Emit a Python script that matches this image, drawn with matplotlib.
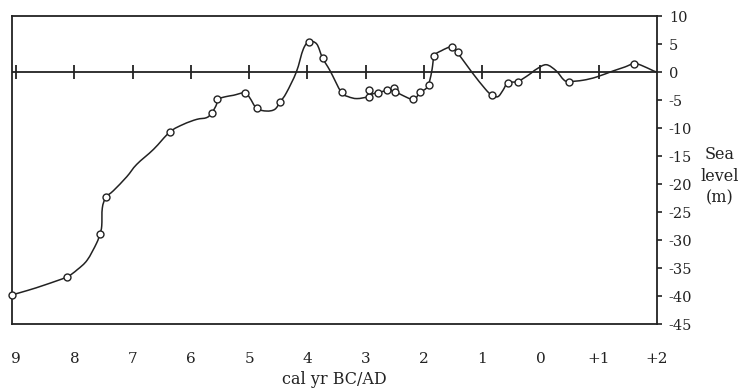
import matplotlib
matplotlib.use("Agg")
import matplotlib.pyplot as plt
from matplotlib.path import Path
from matplotlib.patches import PathPatch

plt.rcParams['font.family'] = ['DejaVu Serif']
plt.rcParams['axes.unicode_minus'] = False

# Age in thousand years (BC negative, AD positive)
curve_x = [-9.07, -8.8, -8.5, -8.13, -7.95, -7.78, -7.62, -7.56, -7.53, -7.52, -7.46,
           -7.33, -7.1, -6.93, -6.64, -6.36, -6.13, -5.9, -5.73, -5.64, -5.56, -5.55,
           -5.4, -5.27, -5.07, -4.99, -4.87, -4.70, -4.56, -4.47, -4.36, -4.19, -4.07,
           -3.97, -3.84, -3.74, -3.61, -3.42, -3.3, -3.15, -2.95, -2.88, -2.79, -2.63,
           -2.5, -2.4, -2.18, -2.07, -1.95, -1.90, -1.86, -1.82, -1.7, -1.52, -1.42,
           -1.18, -0.95, -0.84, -0.73, -0.64, -0.56, -0.39, -0.2, -0.07, 0.10, 0.27,
           0.40, 0.49, 0.73, 0.96, 1.25, 1.45, 1.6, 1.73, 1.94, 2.0]
curve_y = [-39.8, -39.0, -38.0, -36.6, -35.3, -33.6, -30.6, -28.9, -27.5, -24.3, -22.4,
           -21.2, -18.7, -16.5, -13.8, -10.7, -9.35, -8.46, -8.15, -7.3, -5.8, -4.9,
           -4.4, -4.16, -3.7, -4.6, -6.5, -6.97, -6.67, -5.4, -3.7, 0.0, 4.1,
           5.4, 5.0, 2.5, 0.2, -3.6, -4.4, -4.75, -4.4, -3.9, -3.7, -3.3,
           -3.4, -4.0, -4.9, -3.7, -2.8, -1.5, 0.5, 2.9, 3.8, 4.5, 3.4,
           0.0, -3.0, -4.1, -4.4, -3.2, -1.9, -1.7, -0.5, 0.5, 1.3, 0.2,
           -1.4, -1.7, -1.47, -0.9, 0.2, 0.9, 1.5, 1.2, 0.2, 0.0]

obs_x = [-9.07, -8.13, -7.56, -7.46, -6.36, -5.64, -5.55, -5.07, -4.87, -4.47, -3.97,
         -3.74, -3.41, -2.95, -2.94, -2.79, -2.63, -2.51, -2.50, -2.18, -2.07, -1.91,
         -1.82, -1.52, -1.42, -0.84, -0.56, -0.39, 0.49, 1.60]
obs_y = [-39.8, -36.6, -28.9, -22.4, -10.7, -7.3, -4.9, -3.7, -6.5, -5.4, 5.4,
         2.5, -3.6, -4.5, -3.2, -3.7, -3.2, -2.9, -3.6, -4.9, -3.5, -2.4,
         2.9, 4.5, 3.5, -4.1, -1.9, -1.7, -1.7, 1.5]

tick_pos = [-9, -8, -7, -6, -5, -4, -3, -2, -1, 0, 1, 2]
tick_labels = ['9', '8', '7', '6', '5', '4', '3', '2', '1', '0', '+1', '+2']
y_ticks = [10, 5, 0, -5, -10, -15, -20, -25, -30, -35, -40, -45]


def smooth_path(xs, ys):
    """Catmull-Rom curve through the given points as cubic Bezier segments."""
    pts = list(zip(xs, ys))
    n = len(pts)
    verts = [pts[0]]
    codes = [Path.MOVETO]
    for i in range(n - 1):
        p0 = pts[i - 1] if i > 0 else pts[i]
        p1 = pts[i]
        p2 = pts[i + 1]
        p3 = pts[i + 2] if i + 2 < n else pts[i + 1]
        c1 = (p1[0] + (p2[0] - p0[0]) / 6, p1[1] + (p2[1] - p0[1]) / 6)
        c2 = (p2[0] - (p3[0] - p1[0]) / 6, p2[1] - (p3[1] - p1[1]) / 6)
        verts += [c1, c2, p2]
        codes += [Path.CURVE4] * 3
    return Path(verts, codes)


W, H = 751, 392
fig = plt.figure(figsize=(W / 100, H / 100), dpi=100)
ax = fig.add_axes([12 / W, 1 - 324 / H, (657 - 12) / W, (324 - 16) / H])

ink = '#222222'
ax.set_xlim(-9.07, 2.0)
ax.set_ylim(-45, 10)

# zero line with cross ticks
ax.axhline(0, color=ink, lw=1.3, zorder=2)
ax.plot(tick_pos[:-1], [0] * (len(tick_pos) - 1), ls='none', marker='|',
        markersize=10.5, mew=1.3, color=ink, zorder=2)

ax.add_patch(PathPatch(smooth_path(curve_x, curve_y), fill=False,
                       edgecolor=ink, lw=1.1, zorder=3))
ax.plot(obs_x, obs_y, ls='none', marker='o', markersize=5.0, mfc='white',
        mec=ink, mew=1.0, zorder=4, clip_on=False)

for s in ax.spines.values():
    s.set_color(ink)
    s.set_linewidth(1.3)

ax.yaxis.tick_right()
ax.set_yticks(y_ticks)
ax.set_yticklabels([str(v) for v in y_ticks], fontsize=10.5, color=ink)
ax.tick_params(axis='y', direction='out', length=3.5, width=1.2, color=ink, pad=5)

ax.set_xticks(tick_pos)
ax.set_xticklabels(tick_labels, fontsize=11, color=ink)
ax.tick_params(axis='x', length=0, pad=20)

ax.set_xlabel('cal yr BC/AD', fontsize=11.5, color=ink, labelpad=4)

fig.text(720 / W, 1 - 176 / H, 'Sea\nlevel\n(m)', ha='center', va='center',
         fontsize=11.5, color=ink, linespacing=1.35)

fig.savefig('out.png', dpi=100)
